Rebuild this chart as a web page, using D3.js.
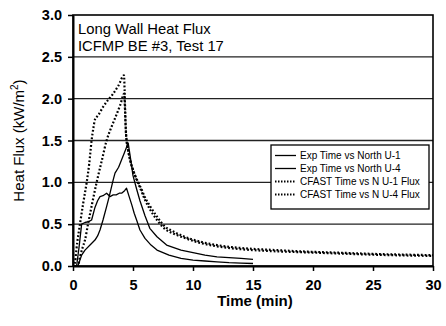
<!DOCTYPE html>
<html>
<head>
<meta charset="utf-8">
<script src="https://cdn.jsdelivr.net/npm/d3@7"></script>
<style>
  html, body { margin: 0; padding: 0; background: #fff; }
  svg { display: block; font-family: "Liberation Sans", Arial, sans-serif; }
</style>
</head>
<body>
<svg id="chart" width="446" height="326"></svg>
<script>
// Measured heat flux, north wall gauge U-1
const expU1Time = [0, 0.3, 0.5, 0.72, 1.0, 1.3, 1.55, 1.83, 2.05, 2.25, 2.5, 2.8, 3.08, 3.35, 3.6, 3.85, 4.05, 4.3, 4.46, 4.7, 4.9, 5.1, 5.3, 5.58, 6.0, 6.5, 7.0, 7.5, 8.0, 9.0, 10.0, 11.0, 12.0, 13.0, 14.0, 15.0];
const expU1Flux = [0, 0.0, 0.22, 0.5, 0.52, 0.53, 0.55, 0.7, 0.78, 0.83, 0.84, 0.87, 0.83, 0.85, 0.85, 0.87, 0.87, 0.9, 0.93, 0.82, 0.73, 0.63, 0.55, 0.43, 0.33, 0.25, 0.19, 0.16, 0.13, 0.09, 0.07, 0.06, 0.05, 0.04, 0.035, 0.03];

// Measured heat flux, north wall gauge U-4
const expU4Time = [0, 0.4, 0.55, 0.72, 1.0, 1.42, 1.83, 2.05, 2.25, 2.5, 2.8, 3.0, 3.2, 3.35, 3.5, 3.8, 4.05, 4.3, 4.6, 4.8, 5.0, 5.3, 5.58, 6.0, 6.4, 7.0, 7.8, 9.0, 10.0, 11.0, 12.0, 13.0, 14.0, 15.0];
const expU4Flux = [0, 0, 0.06, 0.13, 0.19, 0.25, 0.31, 0.36, 0.43, 0.55, 0.71, 0.82, 0.94, 1.03, 1.11, 1.18, 1.27, 1.36, 1.47, 1.28, 1.08, 0.92, 0.78, 0.6, 0.45, 0.35, 0.25, 0.19, 0.16, 0.13, 0.11, 0.1, 0.09, 0.08];

// CFAST prediction at U-1
const cfastU1Time = [0, 0.1, 0.35, 0.58, 0.85, 1.14, 1.35, 1.55, 1.7, 1.83, 2.1, 2.5, 2.9, 3.35, 3.8, 4.25, 4.3, 4.35, 4.4, 4.5, 4.65, 4.85, 5.1, 5.4, 5.7, 6.0, 6.4, 7.0, 7.6, 8.4, 9.2, 10.5, 12.0, 13.3, 15.0, 17.0, 19.0, 22.0, 25.0, 28.0, 30.0];
const cfastU1Flux = [0, 0, 0.28, 0.5, 0.75, 1.0, 1.22, 1.5, 1.65, 1.75, 1.8, 1.9, 1.98, 2.06, 2.16, 2.28, 2.1, 1.85, 1.62, 1.47, 1.34, 1.22, 1.11, 1.01, 0.92, 0.82, 0.72, 0.59, 0.48, 0.41, 0.355, 0.295, 0.25, 0.225, 0.205, 0.19, 0.175, 0.16, 0.145, 0.135, 0.13];

// CFAST prediction at U-4
const cfastU4Time = [0, 0.4, 0.6, 0.8, 1.0, 1.25, 1.6, 1.97, 2.4, 2.8, 3.2, 3.6, 3.95, 4.27, 4.35, 4.46, 4.6, 4.75, 5.0, 5.3, 5.6, 6.0, 6.4, 7.0, 7.6, 8.4, 9.2, 10.5, 12.0, 13.3, 15.0, 17.0, 19.0, 22.0, 25.0, 28.0, 30.0];
const cfastU4Flux = [0, 0, 0.12, 0.22, 0.31, 0.5, 0.75, 1.0, 1.26, 1.5, 1.66, 1.8, 1.93, 2.06, 1.8, 1.5, 1.38, 1.27, 1.15, 1.03, 0.93, 0.79, 0.68, 0.55, 0.45, 0.385, 0.34, 0.28, 0.235, 0.21, 0.19, 0.175, 0.165, 0.15, 0.135, 0.125, 0.12];

const xTicks = [0, 5, 10, 15, 20, 25, 30];
const yTicks = [0, 0.5, 1.0, 1.5, 2.0, 2.5, 3.0];

const titleLines = ["Long Wall Heat Flux", "ICFMP BE #3, Test 17"];
const legendLabels = [
  "Exp Time vs North U-1",
  "Exp Time vs North U-4",
  "CFAST Time vs N U-1 Flux",
  "CFAST Time vs N U-4 Flux"
];

const svg = d3.select("#chart");
const margin = { left: 73, right: 13, top: 15, bottom: 60 };
const W = 446, H = 326;
const x = d3.scaleLinear().domain([0, 30]).range([margin.left, W - margin.right]);
const y = d3.scaleLinear().domain([0, 3]).range([H - margin.bottom, margin.top]);

// horizontal gridlines
svg.append("g")
  .selectAll("line")
  .data(yTicks.filter(d => d > 0 && d < 3))
  .join("line")
  .attr("x1", x(0)).attr("x2", x(30))
  .attr("y1", d => y(d)).attr("y2", d => y(d))
  .attr("stroke", "#222").attr("stroke-width", 1.4);

// plot frame
svg.append("rect")
  .attr("x", x(0)).attr("y", y(3))
  .attr("width", x(30) - x(0)).attr("height", y(0) - y(3))
  .attr("fill", "none").attr("stroke", "#000").attr("stroke-width", 1.6);

// axes
const xAxis = d3.axisBottom(x).tickValues(xTicks).tickFormat(d3.format("d"))
  .tickSizeInner(5).tickSizeOuter(0).tickPadding(9);
const yAxis = d3.axisLeft(y).tickValues(yTicks).tickFormat(d3.format(".1f"))
  .tickSizeInner(5).tickSizeOuter(0).tickPadding(6);

const gx = svg.append("g").attr("transform", `translate(0,${y(0)})`).call(xAxis);
const gy = svg.append("g").attr("transform", `translate(${x(0)},0)`).call(yAxis);
[gx, gy].forEach(g => {
  g.select(".domain").attr("stroke", "#000").attr("stroke-width", 2);
  g.selectAll(".tick line").attr("stroke", "#000").attr("stroke-width", 1.5);
  g.selectAll(".tick text")
    .attr("fill", "#000")
    .style("font-family", "'Liberation Sans', Arial, sans-serif")
    .style("font-size", "14.5px")
    .style("font-weight", "bold");
});

// series
const series = [
  { t: expU1Time, v: expU1Flux, dash: null, width: 1.3, curve: d3.curveLinear },
  { t: expU4Time, v: expU4Flux, dash: null, width: 1.3, curve: d3.curveLinear },
  { t: cfastU1Time, v: cfastU1Flux, dash: "1.8,2", width: 2.2, curve: d3.curveMonotoneX },
  { t: cfastU4Time, v: cfastU4Flux, dash: "1.8,2", width: 2.2, curve: d3.curveMonotoneX }
];

const plot = svg.append("g");
series.forEach(s => {
  const pts = s.t.map((t, i) => [t, s.v[i]]);
  const line = d3.line().x(d => x(d[0])).y(d => y(d[1])).curve(s.curve);
  plot.append("path")
    .attr("d", line(pts))
    .attr("fill", "none")
    .attr("stroke", "#000")
    .attr("stroke-width", s.width)
    .attr("stroke-dasharray", s.dash)
    .attr("stroke-linejoin", "round");
});

// chart title inside the plot area
const title = svg.append("text")
  .attr("x", x(0) + 5).attr("y", y(3) + 19)
  .style("font-size", "14.8px").attr("fill", "#000");
titleLines.forEach((s, i) => {
  title.append("tspan").attr("x", x(0) + 5).attr("dy", i === 0 ? 0 : 17).text(s);
});

// legend
const lg = svg.append("g").attr("transform", "translate(271,145)");
lg.append("rect").attr("width", 158).attr("height", 64)
  .attr("fill", "#fff").attr("stroke", "#000").attr("stroke-width", 1.3);
legendLabels.forEach((lab, i) => {
  const yy = 10.5 + i * 13;
  const s = series[i];
  lg.append("line")
    .attr("x1", 4).attr("x2", 25).attr("y1", yy).attr("y2", yy)
    .attr("stroke", "#000").attr("stroke-width", s.dash ? 1.8 : 1.3)
    .attr("stroke-dasharray", s.dash ? "1.5,1.5" : null);
  lg.append("text")
    .attr("x", 29).attr("y", yy + 3.5)
    .style("font-size", "10px")
    .attr("fill", "#000").text(lab);
});

// axis titles
svg.append("text")
  .attr("x", (x(0) + x(30)) / 2 + 2).attr("y", 306)
  .attr("text-anchor", "middle")
  .style("font-size", "15px").style("font-weight", "bold")
  .text("Time (min)");

const yl = svg.append("text")
  .attr("transform", `translate(24,${(y(0) + y(3)) / 2}) rotate(-90)`)
  .attr("text-anchor", "middle")
  .style("font-size", "15px");
yl.append("tspan").text("Heat Flux (kW/m");
yl.append("tspan").attr("dy", -6).style("font-size", "10px").text("2");
yl.append("tspan").attr("dy", 6).text(")");
</script>
</body>
</html>
